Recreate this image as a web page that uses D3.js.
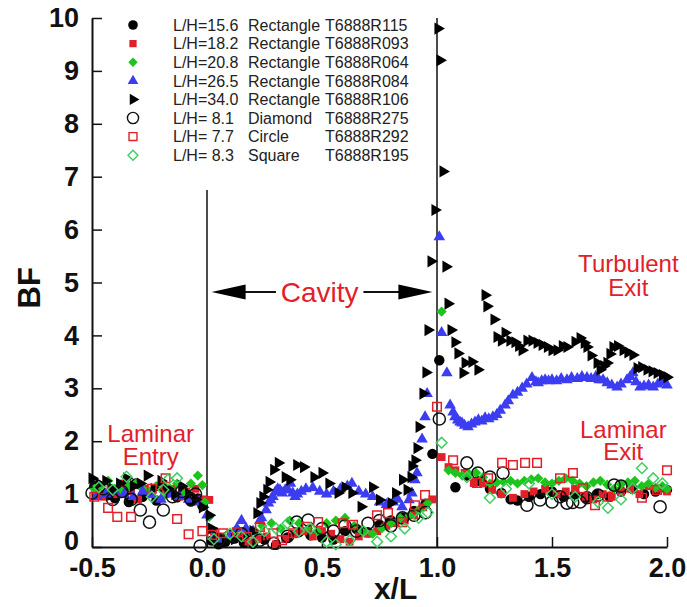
<!DOCTYPE html>
<html>
<head>
<meta charset="utf-8">
<script src="https://cdn.jsdelivr.net/npm/d3@7"></script>
<style>
  body { margin: 0; background: #fff; }
  svg { display: block; }
  text { font-family: "Liberation Sans", Arial, Helvetica, sans-serif; }
</style>
</head>
<body>
<svg id="chart" width="687" height="607"></svg>
<script>
// ---- axis ticks and labels ----
const xMajorTicks = [-0.5, 0.0, 0.5, 1.0, 1.5, 2.0];
const xTickLabels = ["-0.5", "0.0", "0.5", "1.0", "1.5", "2.0"];
const yMajorTicks = [0, 1, 2, 3, 4, 5, 6, 7, 8, 9, 10];
const yTickLabels = ["0", "1", "2", "3", "4", "5", "6", "7", "8", "9", "10"];

// ---- legend text ----
const lhLabels = ["L/H=15.6", "L/H=18.2", "L/H=20.8", "L/H=26.5", "L/H=34.0", "L/H= 8.1", "L/H= 7.7", "L/H= 8.3"];
const shapeLabels = ["Rectangle", "Rectangle", "Rectangle", "Rectangle", "Rectangle", "Diamond", "Circle", "Square"];
const runLabels = ["T6888R115", "T6888R093", "T6888R064", "T6888R084", "T6888R106", "T6888R275", "T6888R292", "T6888R195"];

// ---- BF vs x/L, one array per run ----
const r115 = [ // L/H=15.6 rectangle
  [-0.49,1.15],[-0.46,1.05],[-0.43,0.98],[-0.40,0.92],[-0.37,1.08],[-0.34,0.85],[-0.31,1.20],[-0.28,0.95],
  [-0.25,1.02],[-0.22,0.88],[-0.19,1.10],[-0.16,1.05],[-0.13,0.94],[-0.10,1.00],[-0.07,0.86],[-0.04,0.92],[-0.02,0.78],
  [0.02,0.12],[0.05,0.05],[0.08,0.10],[0.12,0.16],[0.16,0.08],[0.20,0.06],[0.25,0.14],[0.30,0.04],[0.35,0.18],
  [0.40,0.28],[0.45,0.22],[0.50,0.18],[0.55,0.14],[0.60,0.30],[0.65,0.34],[0.70,0.28],[0.75,0.42],[0.80,0.50],
  [0.85,0.56],[0.90,0.68],[0.95,0.82],[0.98,1.76],[1.01,3.53],
  [1.08,1.13],[1.13,1.35],[1.18,1.25],[1.23,1.10],[1.28,1.02],[1.32,0.90],[1.35,0.88],[1.40,0.95],[1.45,1.00],
  [1.50,1.05],[1.55,0.95],[1.60,1.00],[1.65,0.93],[1.70,1.00],[1.75,0.95],[1.80,1.05],[1.85,1.10],[1.90,1.00],
  [1.95,1.05],[2.00,1.08]
];
const r093 = [ // L/H=18.2 rectangle
  [-0.48,1.05],[-0.45,0.95],[-0.42,1.10],[-0.39,1.00],[-0.36,1.20],[-0.33,1.05],[-0.30,0.90],[-0.27,1.10],
  [-0.24,1.00],[-0.21,1.15],[-0.18,1.00],[-0.15,1.10],[-0.12,0.95],[-0.09,1.05],[-0.05,1.10],[-0.02,0.90],[0.01,0.89],
  [0.03,0.30],[0.06,0.20],[0.10,0.15],[0.14,0.20],[0.18,0.10],[0.22,0.15],[0.26,0.20],[0.30,0.05],[0.34,0.15],
  [0.38,0.25],[0.42,0.30],[0.46,0.20],[0.50,0.30],[0.54,0.25],[0.58,0.15],[0.62,0.10],[0.66,0.20],[0.70,0.25],
  [0.74,0.30],[0.78,0.40],[0.82,0.45],[0.86,0.50],[0.90,0.60],[0.94,0.75],[0.98,0.90],
  [1.02,1.70],[1.05,1.51],[1.08,1.45],[1.12,1.40],[1.16,1.21],[1.20,1.20],[1.24,1.08],[1.28,1.00],[1.33,0.93],
  [1.38,1.00],[1.42,1.05],[1.47,1.10],[1.52,1.00],[1.56,1.05],[1.60,1.10],[1.64,0.95],[1.68,0.90],[1.72,1.00],
  [1.76,0.95],[1.80,1.05],[1.84,1.10],[1.88,1.00],[1.92,1.15],[1.96,1.10],[2.00,1.05]
];
const r064 = [ // L/H=20.8 rectangle
  [-0.49,1.10],[-0.46,1.15],[-0.43,1.25],[-0.40,1.10],[-0.37,1.05],[-0.34,1.15],[-0.31,1.20],[-0.28,1.10],
  [-0.25,1.05],[-0.22,1.15],[-0.19,0.95],[-0.16,1.10],[-0.13,1.20],[-0.10,1.00],[-0.07,1.20],[-0.04,1.35],
  [-0.02,1.17],[-0.01,0.85],[0.01,0.57],
  [0.03,0.30],[0.07,0.15],[0.10,0.20],[0.13,0.35],[0.17,0.25],[0.21,0.30],[0.24,0.40],[0.28,0.45],[0.32,0.35],
  [0.36,0.50],[0.40,0.45],[0.44,0.35],[0.48,0.30],[0.52,0.45],[0.56,0.50],[0.60,0.55],[0.64,0.40],[0.68,0.30],
  [0.72,0.25],[0.76,0.35],[0.80,0.45],[0.84,0.55],[0.88,0.60],[0.92,0.70],[0.96,0.83],[1.02,4.45],
  [1.05,1.45],[1.08,1.40],[1.11,1.35],[1.14,1.38],[1.17,1.40],[1.20,1.32],[1.23,1.20],[1.26,1.22],[1.29,1.23],
  [1.32,1.25],[1.35,1.20],[1.38,1.25],[1.41,1.28],[1.44,1.30],[1.47,1.22],[1.50,1.20],[1.53,1.25],[1.56,1.30],
  [1.59,1.25],[1.62,1.20],[1.65,1.15],[1.68,1.22],[1.71,1.25],[1.74,1.18],[1.77,1.10],[1.80,1.18],[1.83,1.22],
  [1.86,1.25],[1.89,1.15],[1.92,1.20],[1.95,1.12],[1.98,1.15],[2.00,1.10]
];
const r084 = [ // L/H=26.5 rectangle
  [-0.48,0.95],[-0.44,1.00],[-0.40,1.05],[-0.36,1.00],[-0.32,0.95],[-0.28,1.05],[-0.24,1.00],[-0.20,0.90],
  [-0.16,1.00],[-0.12,0.95],[-0.08,0.90],[-0.04,0.85],[0.00,0.60],
  [0.03,0.20],[0.06,0.15],[0.10,0.20],[0.13,0.35],[0.15,0.50],[0.17,0.35],[0.20,0.30],[0.23,0.50],[0.237,0.55],
  [0.257,0.70],[0.267,0.83],[0.277,0.89],[0.287,0.95],[0.297,1.04],[0.307,1.10],[0.317,1.08],[0.327,1.02],
  [0.34,1.08],[0.353,1.08],[0.363,1.20],[0.373,1.02],[0.383,0.95],[0.393,1.00],[0.41,1.05],[0.43,1.10],
  [0.46,1.12],[0.49,1.05],[0.52,1.00],[0.55,1.05],[0.58,1.10],[0.61,1.15],[0.63,1.20],[0.66,1.05],[0.69,1.00],
  [0.72,0.95],[0.75,0.85],[0.78,0.80],[0.81,0.85],[0.83,0.90],[0.848,0.76],[0.878,0.89],[0.891,1.02],
  [0.904,1.27],[0.913,1.40],[0.935,2.04],[0.948,2.46],[0.957,2.90],[1.01,5.86],[1.02,4.05],
  [1.043,3.29],[1.057,2.68],[1.07,2.55],[1.078,2.46],[1.09,2.40],[1.10,2.36],[1.109,2.34],[1.12,2.30],[1.135,2.27],
  [1.15,2.32],[1.165,2.36],[1.18,2.40],[1.195,2.38],[1.209,2.44],[1.225,2.42],[1.243,2.46],[1.26,2.50],[1.275,2.58],
  [1.296,2.68],[1.31,2.76],[1.33,2.87],[1.35,2.92],[1.37,3.00],[1.39,3.08],[1.413,3.20],[1.43,3.12],[1.44,3.10],
  [1.455,3.14],[1.47,3.16],[1.485,3.14],[1.50,3.16],[1.52,3.14],[1.54,3.18],[1.565,3.16],[1.585,3.20],[1.61,3.18],
  [1.63,3.22],[1.652,3.20],[1.67,3.18],[1.69,3.22],[1.705,3.16],[1.722,3.16],[1.74,3.10],[1.76,3.06],[1.783,3.02],
  [1.80,3.08],[1.826,3.16],[1.84,3.22],[1.852,3.29],[1.865,3.12],[1.883,3.02],[1.90,3.04],[1.92,3.06],[1.94,3.02],
  [1.96,3.08],[1.98,3.12],[2.00,3.06]
];
const r106 = [ // L/H=34.0 rectangle
  [-0.50,1.30],[-0.47,1.20],[-0.44,1.25],[-0.41,1.10],[-0.38,1.20],[-0.35,1.30],[-0.32,1.15],[-0.29,1.20],
  [-0.26,1.35],[-0.23,1.10],[-0.20,1.25],[-0.17,1.10],[-0.14,1.00],[-0.11,1.15],[-0.08,1.00],[-0.05,0.90],
  [-0.02,0.75],[0.01,0.60],[0.02,0.35],
  [0.04,0.20],[0.08,0.10],[0.12,0.15],[0.16,0.20],[0.20,0.30],[0.217,0.64],[0.23,0.83],[0.243,0.95],[0.26,1.08],
  [0.27,1.23],[0.29,1.46],[0.31,1.59],[0.34,1.32],[0.36,1.27],[0.39,1.55],[0.42,1.51],[0.465,1.32],[0.50,1.40],
  [0.53,1.20],[0.57,1.02],[0.60,1.13],[0.63,1.02],[0.67,0.76],[0.72,1.13],[0.75,0.89],[0.80,0.83],[0.82,1.02],
  [0.85,1.27],[0.87,1.08],[0.887,1.32],[0.891,1.53],[0.904,1.64],[0.913,1.87],[0.922,2.27],[0.939,2.90],
  [0.952,3.30],[0.961,4.10],[0.974,5.40],[0.991,6.37],[1.004,9.80],[1.013,9.20],[1.026,7.10],[1.039,5.30],
  [1.048,4.60],[1.061,4.10],[1.078,3.87],[1.091,3.66],[1.113,3.29],[1.122,3.48],[1.152,3.50],[1.178,3.35],
  [1.209,4.76],[1.217,4.55],[1.248,4.30],[1.261,3.97],[1.28,3.90],[1.296,4.05],[1.317,3.90],[1.339,3.87],
  [1.355,3.80],[1.37,3.72],[1.391,3.90],[1.413,3.90],[1.435,3.86],[1.457,3.82],[1.48,3.78],[1.50,3.72],
  [1.522,3.72],[1.545,3.80],[1.565,3.78],[1.60,3.88],[1.622,3.95],[1.64,3.86],[1.652,3.78],[1.67,3.62],
  [1.696,3.48],[1.709,3.35],[1.725,3.42],[1.739,3.48],[1.752,3.65],[1.765,3.78],[1.785,3.80],[1.809,3.72],
  [1.83,3.68],[1.852,3.63],[1.87,3.38],[1.89,3.40],[1.913,3.35],[1.935,3.32],[1.957,3.29],[1.98,3.25],[2.00,3.21]
];
const r275 = [ // L/H=8.1 diamond
  [-0.50,1.02],[-0.45,1.10],[-0.41,0.90],[-0.37,1.05],[-0.33,0.90],[-0.29,0.70],[-0.25,0.47],[-0.19,0.70],
  [-0.15,0.95],[-0.11,1.05],[-0.07,0.90],[-0.05,1.00],[-0.03,0.02],
  [0.05,0.13],[0.10,0.20],[0.15,0.25],[0.23,0.13],[0.29,0.07],[0.35,0.20],[0.39,0.47],[0.44,0.51],[0.50,0.35],
  [0.55,0.30],[0.60,0.40],[0.65,0.30],[0.70,0.45],[0.75,0.50],[0.80,0.40],[0.85,0.55],[0.90,0.60],[0.95,0.65],
  [1.01,2.42],[1.13,1.59],[1.178,1.40],[1.23,1.32],[1.287,1.40],[1.391,0.79],[1.448,0.89],[1.50,0.85],[1.535,0.95],
  [1.565,0.83],[1.59,0.84],[1.622,0.85],[1.652,0.93],[1.70,0.98],[1.77,1.17],[1.80,1.15],[1.97,0.76]
];
const r292 = [ // L/H=7.7 circle
  [-0.49,0.95],[-0.43,0.74],[-0.39,0.57],[-0.33,0.57],[-0.24,1.10],[-0.18,1.30],[-0.13,0.53],[-0.08,0.24],[-0.02,0.30],
  [0.022,0.23],[0.07,0.26],[0.13,0.28],[0.174,0.19],[0.23,0.38],[0.287,0.26],[0.326,0.13],[0.374,0.26],
  [0.435,0.38],[0.483,0.47],[0.591,0.45],[0.635,0.42],[0.739,0.60],[0.787,0.64],[0.848,0.47],[0.904,0.79],
  [0.948,0.98],[1.00,2.65],
  [1.07,1.64],[1.174,1.21],[1.222,1.30],[1.283,1.59],[1.33,1.55],[1.383,1.59],[1.435,1.59],[1.535,1.30],
  [1.591,1.40],[1.635,1.11],[1.687,0.79],[1.743,0.95],[1.891,0.93],[1.957,1.08],[2.00,1.45]
];
const r195 = [ // L/H=8.3 square
  [-0.47,1.13],[-0.41,1.08],[-0.35,1.33],[-0.24,0.95],[-0.19,1.08],[-0.17,1.27],[-0.13,1.30],
  [0.03,0.15],[0.10,0.25],[0.15,0.20],[0.20,0.10],[0.25,0.30],[0.30,0.35],[0.35,0.45],[0.40,0.30],[0.45,0.35],
  [0.52,0.10],[0.56,0.05],[0.62,0.12],[0.68,0.30],[0.74,0.10],[0.80,0.20],[0.86,0.35],[0.92,0.55],[0.96,0.65],
  [1.02,1.97],[1.13,1.32],[1.23,0.93],[1.30,1.10],[1.40,1.20],[1.50,1.00],[1.60,0.95],[1.70,0.85],[1.743,0.74],
  [1.80,0.90],[1.85,1.10],[1.891,1.49],[1.94,1.30],[1.98,1.20]
];

// ---- layout ----
const svg = d3.select("#chart");
const x = d3.scaleLinear().domain([-0.5, 2.0]).range([92, 667]);
const y = d3.scaleLinear().domain([0, 10]).range([547, 18]);

const RED = "#e3202a", GREEN = "#1cc41c", LGREEN = "#3fcf62", BLUE = "#3c3cf0";

const place = (deg) => (p) => p.attr("transform", d => `translate(${x(d[0])},${y(d[1])}) rotate(${deg})`);

const runs = [
  { data: r115, type: d3.symbolCircle,   size: 85,  fill: "#000", stroke: "none", rotate: 0 },
  { data: r093, type: d3.symbolSquare,   size: 62,  fill: RED,    stroke: "none", rotate: 0 },
  { data: r064, type: d3.symbolSquare,   size: 52,  fill: GREEN,  stroke: "none", rotate: 45 },
  { data: r084, type: d3.symbolTriangle, size: 58,  fill: BLUE,   stroke: "none", rotate: 0 },
  { data: r106, type: d3.symbolTriangle, size: 64,  fill: "#000", stroke: "none", rotate: 90 },
  { data: r275, type: d3.symbolCircle,   size: 115, fill: "none", stroke: "#111", rotate: 0 },
  { data: r292, type: d3.symbolSquare,   size: 74,  fill: "none", stroke: RED,    rotate: 0 },
  { data: r195, type: d3.symbolSquare,   size: 58,  fill: "none", stroke: LGREEN, rotate: 45 }
];

// ---- axes ----
const xMinor = d3.range(-0.4, 2.0, 0.1).filter(v => Math.abs(v * 2 - Math.round(v * 2)) > 1e-6);
const yMinor = d3.range(0.2, 10, 0.2).filter(v => Math.abs(v - Math.round(v)) > 1e-6);

const gx = svg.append("g").attr("transform", `translate(0,${y(0)})`);
gx.call(d3.axisBottom(x).tickValues(xMinor).tickSize(-5).tickSizeOuter(0).tickFormat(""));
gx.call(d3.axisBottom(x).tickValues(xMajorTicks).tickSize(-10).tickSizeOuter(0).tickPadding(11)
  .tickFormat((d, i) => xTickLabels[i]));
gx.selectAll("text").attr("font-size", 27).attr("font-weight", "bold").attr("fill", "#111")
  .attr("font-family", "'Liberation Sans', Arial, sans-serif");

const gy = svg.append("g").attr("transform", `translate(${x(-0.5)},0)`);
gy.call(d3.axisLeft(y).tickValues(yMinor).tickSize(-5).tickSizeOuter(0).tickFormat(""));
gy.call(d3.axisLeft(y).tickValues(yMajorTicks).tickSize(-10).tickSizeOuter(0).tickPadding(13)
  .tickFormat((d, i) => yTickLabels[i]));
gy.selectAll("text").attr("font-size", 27).attr("font-weight", "bold").attr("fill", "#111")
  .attr("font-family", "'Liberation Sans', Arial, sans-serif");
// the zero label sits slightly above the corner, clear of "-0.5"
gy.selectAll(".tick text").filter(d => d === 0).attr("dy", "0.1em");

svg.selectAll(".domain").attr("stroke", "#111").attr("stroke-width", 2);
svg.selectAll(".tick line").attr("stroke", "#111").attr("stroke-width", 1.5);

// axis titles
svg.append("text").attr("transform", `translate(40,${y(4.9)}) rotate(-90)`)
  .attr("text-anchor", "middle").attr("font-size", 31).attr("font-weight", "bold").attr("fill", "#111").text("BF");
svg.append("text").attr("x", x(0.82)).attr("y", 599)
  .attr("text-anchor", "middle").attr("font-size", 30).attr("font-weight", "bold").attr("fill", "#111").text("x/L");

// cavity edges
svg.append("line").attr("x1", x(0)).attr("x2", x(0)).attr("y1", y(6.75)).attr("y2", y(0))
  .attr("stroke", "#111").attr("stroke-width", 1.5);
svg.append("line").attr("x1", x(1)).attr("x2", x(1)).attr("y1", y(10)).attr("y2", y(0))
  .attr("stroke", "#111").attr("stroke-width", 1.5);

// ---- data markers ----
runs.forEach(r => {
  svg.append("g").selectAll("path").data(r.data).join("path")
    .attr("d", d3.symbol().type(r.type).size(r.size))
    .attr("fill", r.fill)
    .attr("stroke", r.stroke)
    .attr("stroke-width", r.stroke === "none" ? 0 : 1.5)
    .call(place(r.rotate));
});

// ---- cavity arrow ----
const ay = y(4.82);
const arrow = svg.append("g");
arrow.append("line").attr("x1", x(0.02) + 30).attr("x2", x(0.3)).attr("y1", ay).attr("y2", ay)
  .attr("stroke", "#111").attr("stroke-width", 2);
arrow.append("line").attr("x1", x(0.68)).attr("x2", x(0.98) - 30).attr("y1", ay).attr("y2", ay)
  .attr("stroke", "#111").attr("stroke-width", 2);
arrow.append("path").attr("fill", "#000")
  .attr("d", `M${x(0.02)},${ay} L${x(0.02) + 34},${ay - 7.5} L${x(0.02) + 34},${ay + 7.5} Z`);
arrow.append("path").attr("fill", "#000")
  .attr("d", `M${x(0.98)},${ay} L${x(0.98) - 34},${ay - 7.5} L${x(0.98) - 34},${ay + 7.5} Z`);
svg.append("text").attr("x", x(0.49)).attr("y", y(4.82) + 10).attr("text-anchor", "middle")
  .attr("font-size", 28).attr("fill", RED).text("Cavity");

// ---- region notes ----
const note = (cx, lines, baselines) => {
  lines.forEach((t, i) => {
    svg.append("text").attr("x", x(cx)).attr("y", y(baselines[i])).attr("text-anchor", "middle")
      .attr("font-size", 24).attr("fill", RED).text(t);
  });
};
note(-0.245, ["Laminar", "Entry"], [1.98, 1.55]);
note(1.832, ["Turbulent", "Exit"], [5.19, 4.74]);
note(1.81, ["Laminar", "Exit"], [2.06, 1.64]);

// ---- legend ----
const legend = svg.append("g");
runs.forEach((r, i) => {
  const ry = 25 + i * 18.6;
  legend.append("path").attr("d", d3.symbol().type(r.type).size(r.size * 0.85)())
    .attr("transform", `translate(133,${ry}) rotate(${r.rotate})`)
    .attr("fill", r.fill).attr("stroke", r.stroke).attr("stroke-width", r.stroke === "none" ? 0 : 1.4);
  [[173, lhLabels[i]], [248, shapeLabels[i]], [325, runLabels[i]]].forEach(([tx, t]) => {
    legend.append("text").attr("x", tx).attr("y", ry).attr("dy", "0.36em")
      .attr("font-size", 16).attr("fill", "#222").attr("xml:space", "preserve").text(t);
  });
});
</script>
</body>
</html>
